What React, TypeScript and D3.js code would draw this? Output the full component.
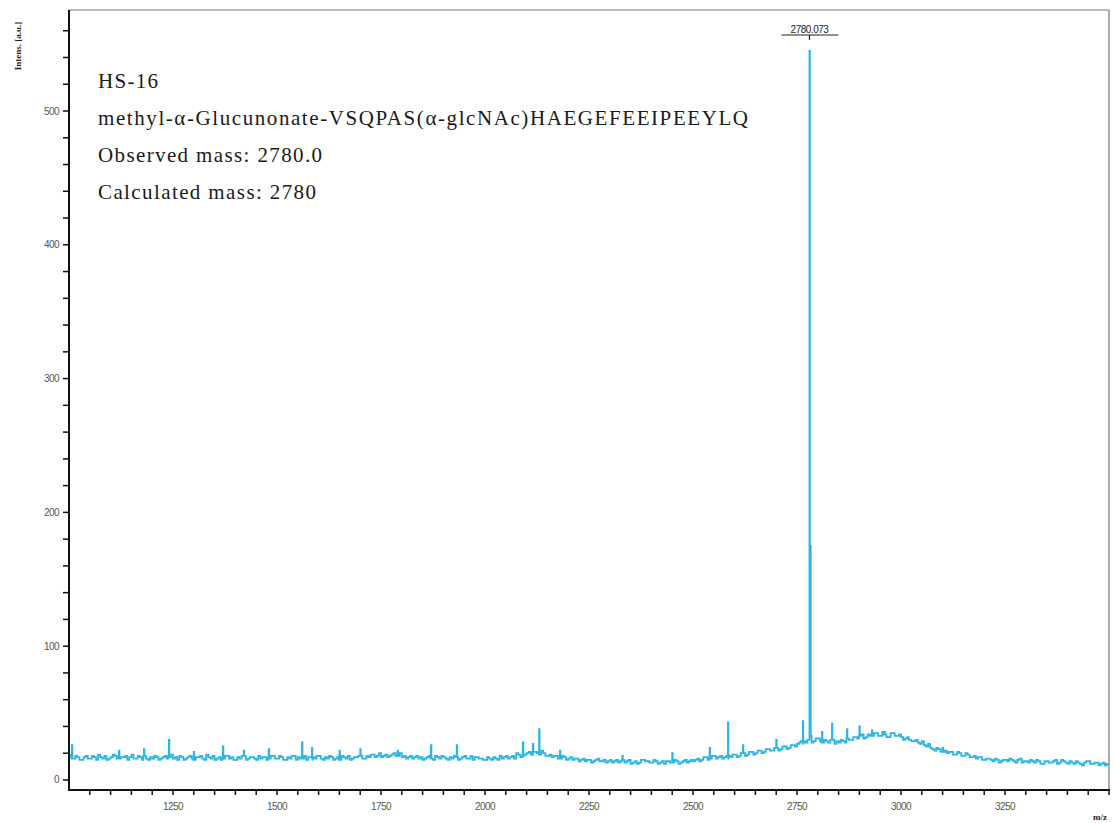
import React from "react";
import * as d3 from "d3";

// spectrum baseline, one value every 10 m/z starting at 1000
const mzStart = 1000;
const mzStep = 10;
const baseline = [
  19, 16, 17, 15, 18, 16, 17, 19, 16, 15, 17, 18, 16, 17, 15, 19, 16, 17, 18, 15, 16, 17, 16, 18, 17,
  16, 15, 17, 16, 18, 15, 17, 16, 19, 16, 15, 17, 16, 18, 17, 15, 16, 18, 16, 17, 15, 16, 17, 16, 18,
  16, 17, 15, 16, 18, 17, 16, 15, 17, 16, 18, 15, 16, 17, 16, 15, 17, 18, 16, 17, 18, 16, 17, 19, 18,
  17, 19, 18, 20, 18, 17, 16, 18, 17, 16, 15, 17, 16, 18, 16, 17, 15, 16, 17, 16, 18, 16, 15, 17, 16,
  15, 16, 17, 15, 16, 18, 17, 16, 19, 18, 20, 19, 21, 19, 20, 18, 17, 18, 16, 17, 16, 15, 16, 15, 14,
  15, 14, 16, 14, 13, 15, 14, 13, 15, 14, 12, 14, 13, 15, 14, 13, 14, 13, 12, 14, 13, 14, 13, 15, 14,
  14, 16, 15, 17, 16, 18, 17, 16, 18, 17, 19, 18, 20, 19, 21, 20, 22, 21, 23, 22, 24, 23, 25, 24, 26,
  27, 29, 28, 30, 29, 31, 28, 29, 30, 27, 28, 29, 31, 30, 32, 33, 31, 34, 33, 35, 33, 34, 32, 35, 33,
  32, 31, 30, 29, 28, 29, 25, 24, 22, 23, 21, 20, 21, 19, 20, 18, 19, 17, 16, 17, 15, 16, 14, 15, 14,
  15, 16, 14, 15, 13, 14, 15, 13, 14, 12, 14, 13, 15, 13, 14, 12, 13, 14, 12, 13, 14, 12, 13, 12, 11,
  12,
];
// in-between readings, at 1005, 1015, ... 3495
const baselineMid = [
  17, 18, 15, 17, 16, 18, 15, 17, 18, 16, 19, 16, 17, 18, 17, 16, 18, 15, 16, 17, 18, 15, 17, 16, 19,
  17, 18, 15, 17, 16, 17, 18, 15, 17, 18, 16, 15, 18, 16, 15, 17, 18, 15, 17, 16, 18, 17, 15, 18, 16,
  18, 15, 17, 18, 15, 16, 18, 17, 15, 18, 16, 17, 18, 15, 17, 18, 16, 15, 17, 18, 16, 18, 19, 17, 20,
  18, 17, 19, 18, 20, 18, 17, 16, 18, 17, 16, 18, 15, 17, 18, 16, 17, 18, 15, 17, 16, 18, 17, 16, 15,
  17, 15, 16, 18, 17, 16, 18, 20, 17, 19, 21, 18, 20, 22, 18, 19, 18, 16, 18, 15, 17, 16, 14, 16, 15,
  13, 15, 14, 15, 14, 13, 15, 14, 13, 15, 13, 12, 15, 14, 13, 15, 12, 14, 14, 13, 15, 12, 14, 13, 15,
  15, 14, 17, 15, 18, 16, 18, 17, 16, 19, 17, 20, 18, 21, 19, 22, 20, 23, 22, 24, 22, 25, 23, 26, 25,
  28, 27, 30, 28, 31, 29, 30, 28, 31, 29, 30, 28, 30, 32, 31, 34, 32, 33, 35, 33, 36, 32, 35, 33, 34,
  30, 32, 29, 30, 27, 26, 27, 23, 24, 21, 22, 21, 19, 21, 18, 20, 17, 18, 17, 15, 16, 15, 16, 13, 15,
  14, 15, 13, 16, 14, 13, 14, 15, 12, 14, 13, 14, 12, 15, 13, 14, 12, 13, 11, 14, 12, 13, 11, 13, 12,
];

// narrow noise spikes [m/z, intensity]
const spikes: [number, number][] = [
  [1007, 26], [1120, 22], [1180, 23], [1240, 30], [1300, 21], [1370, 25], [1420, 22],
  [1480, 23], [1560, 28], [1584, 24], [1650, 22], [1700, 23], [1790, 22], [1870, 26],
  [1932, 26], [2091, 28], [2115, 27], [2130, 38], [2180, 22], [2330, 18], [2450, 20],
  [2540, 24], [2584, 43], [2620, 26], [2700, 30], [2764, 44], [2810, 36], [2834, 42],
  [2870, 38], [2900, 40], [2930, 37], [2960, 36], [3020, 30], [3100, 24],
];

// main isotope cluster
const mainPeak: [number, number][] = [
  [2779, 30], [2780, 545], [2781, 60], [2782, 175], [2783, 33],
];

const xTicks = d3.range(1050, 3501, 50);
const xLabels = [1250, 1500, 1750, 2000, 2250, 2500, 2750, 3000, 3250];
const yTicks = d3.range(0, 561, 20);
const yLabels = [0, 100, 200, 300, 400, 500];

const infoLines = [
  "HS-16",
  "methyl-\u03b1-Glucunonate-VSQPAS(\u03b1-glcNAc)HAEGEFEEIPEEYLQ",
  "Observed mass: 2780.0",
  "Calculated mass: 2780",
];
const infoWidths = [60, 650, 224, 218];
const peakLabel = { mz: 2780, text: "2780.073" };

const W = 1115;
const H = 823;
const m = { left: 69, right: 1109, top: 10, bottom: 790 };
const color = "#2ab6e4";

export default function App() {
  const x = d3.scaleLinear().domain([1000, 3500]).range([m.left, m.right]);
  const y = d3.scaleLinear().domain([-7.5, 575.5]).range([m.bottom, m.top]);

  const pts: [number, number][] = baseline.map((v, i) => [mzStart + i * mzStep, v]);
  baselineMid.forEach((v, i) => pts.push([mzStart + mzStep / 2 + i * mzStep, v]));
  spikes.forEach(([mz, v]) => {
    const b = baseline[Math.round((mz - mzStart) / mzStep)];
    pts.push([mz - 1.2, b], [mz, v], [mz + 1.2, b]);
  });
  const filtered = pts.filter(([mz]) => mz < 2778 || mz > 2784);
  const all = filtered.concat(mainPeak).sort((a, b) => a[0] - b[0]);

  const line = d3
    .line<[number, number]>()
    .x((d) => x(d[0]))
    .y((d) => y(d[1]))
    .curve(d3.curveStepAfter);

  const px = x(peakLabel.mz);

  return (
    <svg
      width={W}
      height={H}
      style={{ position: "absolute", left: 0, top: 0, background: "#fff" }}
    >
      {/* frame */}
      <line x1={m.left} x2={m.right} y1={m.top} y2={m.top} stroke="#777" strokeWidth={1.2} />
      <line x1={m.right} x2={m.right} y1={m.top} y2={m.bottom} stroke="#777" strokeWidth={1.2} />

      {/* spectrum */}
      <path d={line(all) || ""} fill="none" stroke={color} strokeWidth={1.8} strokeLinejoin="miter" />

      {/* axes */}
      <line x1={m.left} x2={m.left} y1={m.top} y2={m.bottom + 1} stroke="#111" strokeWidth={2} />
      <line x1={m.left - 1} x2={m.right + 1} y1={m.bottom} y2={m.bottom} stroke="#111" strokeWidth={2} />

      {yTicks.map((t) => (
        <line key={"yt" + t} x1={m.left - 6} x2={m.left} y1={y(t)} y2={y(t)} stroke="#111" strokeWidth={1.5} />
      ))}
      {yLabels.map((t) => (
        <text
          key={"yl" + t}
          x={m.left - 10}
          y={y(t) + 3.5}
          textAnchor="end"
          fontFamily="Liberation Sans Narrow, Liberation Sans, Arial"
          fontSize={10}
          letterSpacing={-0.6}
          fill="#555"
        >
          {t}
        </text>
      ))}

      {xTicks.map((t) => (
        <line key={"xt" + t} x1={x(t)} x2={x(t)} y1={m.bottom} y2={m.bottom + 5} stroke="#111" strokeWidth={1.5} />
      ))}
      {xLabels.map((t) => (
        <text
          key={"xl" + t}
          x={x(t)}
          y={m.bottom + 20}
          textAnchor="middle"
          fontFamily="Liberation Sans Narrow, Liberation Sans, Arial"
          fontSize={10}
          letterSpacing={-0.6}
          fill="#555"
        >
          {t}
        </text>
      ))}

      {/* axis titles */}
      <text
        transform="translate(21,46) rotate(-90)"
        textAnchor="middle"
        fontFamily="Liberation Serif, Times New Roman"
        fontSize={9}
        fontWeight="bold"
        fill="#222"
      >
        Intens. [a.u.]
      </text>
      <text
        x={1100}
        y={820}
        textAnchor="middle"
        fontFamily="Liberation Serif, Times New Roman"
        fontSize={9}
        fontWeight="bold"
        fill="#222"
      >
        m/z
      </text>

      {/* peak label */}
      <text
        x={px}
        y={33}
        textAnchor="middle"
        fontFamily="Liberation Sans Narrow, Liberation Sans, Arial"
        fontSize={10}
        letterSpacing={-0.5}
        fill="#222"
      >
        {peakLabel.text}
      </text>
      <line x1={px - 28} x2={px + 29} y1={35} y2={35} stroke="#222" strokeWidth={1.2} />
      <line x1={px} x2={px} y1={35} y2={40} stroke="#222" strokeWidth={1.2} />

      {/* annotation */}
      {infoLines.map((s, i) => (
        <text
          key={s}
          x={98}
          y={88 + i * 37}
          fontFamily="Liberation Serif, Times New Roman"
          fontSize={21}
          fill="#1a1a1a"
          textLength={infoWidths[i]}
          lengthAdjust="spacing"
        >
          {s}
        </text>
      ))}
    </svg>
  );
}
